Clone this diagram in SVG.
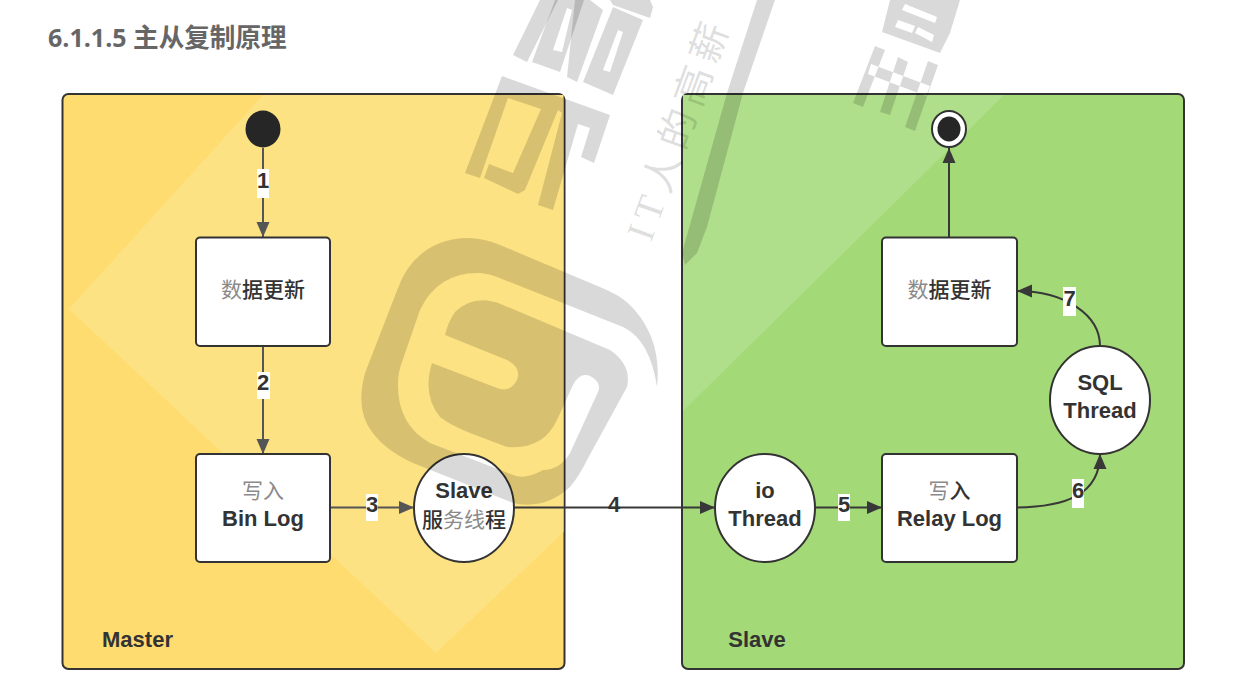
<svg xmlns="http://www.w3.org/2000/svg" width="1242" height="678" viewBox="0 0 1242 678">
<style>
text{font-family:"Liberation Sans","Noto Sans CJK SC",sans-serif;font-size:22px;fill:#333;text-anchor:middle}
.b{font-weight:700}
.l{fill:#8a8a8a;font-weight:400;font-size:21px}
.d{fill:#333;font-weight:500;font-size:21px}
.panel{stroke:#333;stroke-width:2}
.node{fill:#fff;stroke:#333;stroke-width:2}
.edge{fill:none;stroke-width:2}
.m{stroke:#555}
.s{stroke:#383838}
.tag{fill:#fff;stroke:none}
.num{font-weight:700}
</style>
<defs>
<marker id="am" markerUnits="userSpaceOnUse" markerWidth="16" markerHeight="14" refX="15" refY="7" orient="auto"><path d="M0 0.5L15 7L0 13.5Z" fill="#555"/></marker>
<marker id="as" markerUnits="userSpaceOnUse" markerWidth="16" markerHeight="14" refX="15" refY="7" orient="auto"><path d="M0 0.5L15 7L0 13.5Z" fill="#383838"/></marker>
</defs>
<rect width="1242" height="678" fill="#fff"/>
<text x="48" y="47" style="font-family:'Open Sans','Noto Sans CJK SC',sans-serif;font-size:25px;font-weight:700;fill:#666;text-anchor:start">6.1.1.5 <tspan style="font-size:25.6px">主从复制原理</tspan></text>

<g id="panel-master">
<rect class="panel" x="62.500" y="94" width="502" height="575" rx="6" fill="#FFDC70"/>
<path d="M263 95L69 309L436 653L563.500 532V95Z" fill="#FDE283"/>
<text class="b" x="137.500" y="647">Master</text>
</g>
<g id="panel-slave">
<rect class="panel" x="682" y="94" width="502" height="575" rx="6" fill="#A3D977"/>
<path d="M683 95H1004L683 411Z" fill="#B0DF8B"/>
<text class="b" x="757" y="647">Slave</text>
</g>

<g id="connectors">
<path class="edge m" d="M263 148V237" marker-end="url(#am)"/>
<path class="edge m" d="M263 346V454" marker-end="url(#am)"/>
<path class="edge m" d="M330 507.500H414" marker-end="url(#am)"/>
<path class="edge s" d="M514 507.500H715" marker-end="url(#as)"/>
<path class="edge s" d="M815 507.500H882" marker-end="url(#as)"/>
<path class="edge s" d="M1017 507.500C1065 507 1100 495 1100 454" marker-end="url(#as)"/>
<path class="edge s" d="M1100 346C1100 315 1065 291 1017 291" marker-end="url(#as)"/>
<path class="edge s" d="M949 237V148" marker-end="url(#as)"/>
<rect class="tag" x="257" y="169" width="12" height="29"/><text class="num" x="263" y="188">1</text>
<rect class="tag" x="257" y="372" width="13" height="27"/><text class="num" x="263" y="390">2</text>
<rect class="tag" x="366" y="494" width="12" height="27"/><text class="num" x="372" y="512">3</text>
<text class="num" x="614" y="512">4</text>
<rect class="tag" x="838" y="494" width="12" height="27"/><text class="num" x="844" y="512">5</text>
<rect class="tag" x="1072" y="479" width="12" height="29"/><text class="num" x="1078" y="498">6</text>
<rect class="tag" x="1063" y="287" width="13" height="29"/><text class="num" x="1069.500" y="306">7</text>
</g>

<g id="start"><ellipse cx="263" cy="129" rx="17.500" ry="18.500" fill="#262626"/></g>
<g id="end"><ellipse cx="949" cy="129" rx="17" ry="18" fill="#fff" stroke="#333" stroke-width="2"/><ellipse cx="949" cy="129" rx="11.500" ry="12.500" fill="#262626"/></g>
<g id="update-master"><rect class="node" x="196" y="237.500" width="134" height="108.500" rx="4"/><text x="263" y="297"><tspan class="l">数</tspan><tspan class="d">据更新</tspan></text></g>
<g id="binlog"><rect class="node" x="196" y="454" width="134" height="108" rx="4"/><text class="l" x="263" y="498">写入</text><text class="b" x="263" y="526">Bin Log</text></g>
<g id="slave-service"><ellipse class="node" cx="464" cy="508" rx="50" ry="54"/><text class="b" x="464" y="498">Slave</text><text x="464" y="527"><tspan class="d">服</tspan><tspan class="l">务线</tspan><tspan class="d">程</tspan></text></g>
<g id="io-thread"><ellipse class="node" cx="765" cy="508" rx="50" ry="54"/><text class="b" x="765" y="498">io</text><text class="b" x="765" y="526">Thread</text></g>
<g id="relaylog"><rect class="node" x="882" y="454" width="135" height="108" rx="4"/><text x="949.500" y="498"><tspan class="l">写</tspan><tspan class="d">入</tspan></text><text class="b" x="949.500" y="526">Relay Log</text></g>
<g id="sql-thread"><ellipse class="node" cx="1100" cy="400" rx="50" ry="54"/><text class="b" x="1100" y="390">SQL</text><text class="b" x="1100" y="418">Thread</text></g>
<g id="update-slave"><rect class="node" x="882" y="237.500" width="135" height="108.500" rx="4"/><text x="949.500" y="297"><tspan class="l">数</tspan><tspan class="d">据更新</tspan></text></g>

<g id="watermark" fill="#000" fill-opacity=".15" fill-rule="evenodd">
<path d="M657 387C660 360 655 330 630 305Q620 295 600 287L500 245Q470 232 440 243Q410 255 398 288L365 373Q355 410 372 432Q385 450 413 463L513 503Q545 510 570 487Q580 475 587 460L627 387Q632 365 610 350L503 305Q475 293 455 312Q448 322 445 335L507 360Q522 368 517 380Q510 393 497 388L432 363Q422 395 440 417Q450 425 470 433L507 447Q543 450 557 420L573 385Q580 372 590 376Q602 382 598 392L570 453Q560 470 543 470Q525 480 513 475L430 443Q398 425 398 385Q398 372 402 362L420 310Q438 272 480 273Q490 274 497 277L623 327Q650 340 657 387Z"/>
<path d="M513 55L527 62L558 0H540Z"/>
<path d="M532 62L560 72L584 0H555ZM553 50L562 52L572 10L567 8Z"/>
<path d="M567 77L577 82L603 10L590 0H575Z"/>
<path d="M583 82L613 95L643 20L613 7ZM603 70L610 72L623 32L618 30Z"/>
<path d="M613 5L650 18L653 7L650 0H610Z"/>
<path d="M502 76L465 173L480 178L508 98L541 109L513 173L489 164L484 178L518 194L525 190L558 110L562 113L538 205L553 210L578 124L590 128L581 157L594 163L610 115Z"/>
<path d="M757 0L727 93L682 253L685 265L697 253L707 227L743 93L775 0Z"/>
<path d="M890 0L882 32L940 53L950 33L960 0ZM895 27L912 33L915 26L898 20ZM915 33L932 42L934 35L918 27ZM902 10L935 23L937 17L905 4Z"/>
<path d="M853 103L863 107L885 50L875 46ZM880 112L890 115L908 62L898 57ZM905 127L915 131L938 65L928 61ZM868 74L926 96L930 86L871 64Z"/>
</g>
<text transform="translate(651 243) rotate(-70)" style="font-size:39px;letter-spacing:7px;fill:#000;fill-opacity:.14;text-anchor:start;font-family:'Liberation Serif','Noto Sans CJK SC',serif">IT人的高薪</text>
</svg>
